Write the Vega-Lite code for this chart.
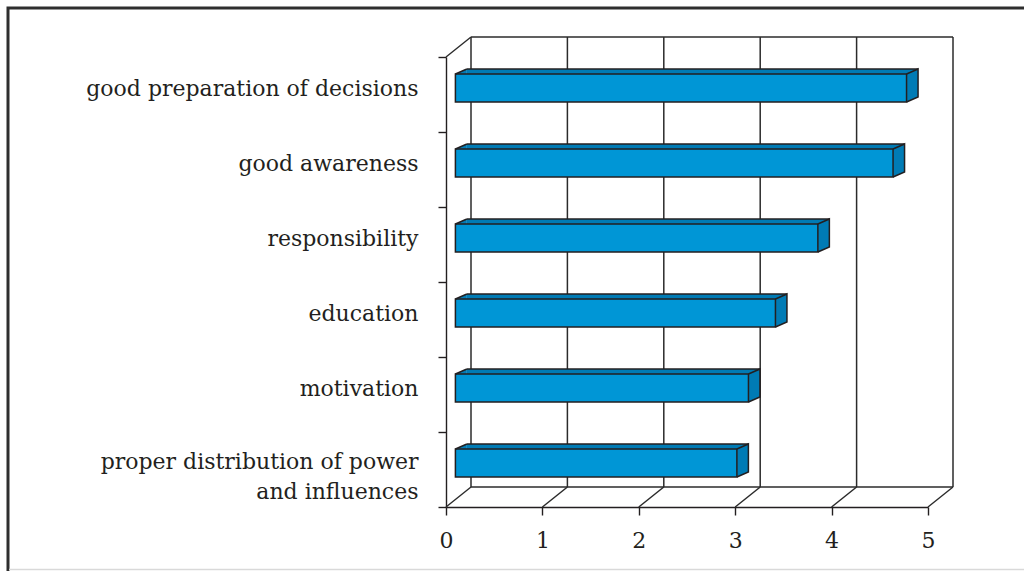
{
  "$schema": "https://vega.github.io/schema/vega-lite/v6.json",
  "width": 482,
  "height": 450,
  "autosize": {"type": "none"},
  "padding": {"left": 446, "top": 57, "right": 96, "bottom": 64},
  "background": "#ffffff",
  "config": {"view": {"stroke": null}, "axis": {"title": null}},
  "datasets": {
    "scores": [
      {"factor": "good preparation of decisions", "score": 4.68},
      {"factor": "good awareness", "score": 4.54},
      {"factor": "responsibility", "score": 3.76},
      {"factor": "education", "score": 3.32},
      {"factor": "motivation", "score": 3.04},
      {"factor": "proper distribution of power and influences", "score": 2.92}
    ],
    "ticks": [{"t": 0}, {"t": 1}, {"t": 2}, {"t": 3}, {"t": 4}, {"t": 5}]
  },
  "layer": [
    {
      "data": {"name": "ticks"},
      "mark": {"type": "point", "shape": "M25,-57.5L25,392.5", "size": 4, "filled": false, "stroke": "#2b2b2b", "strokeWidth": 1.5, "opacity": 1},
      "encoding": {
        "x": {"field": "t", "type": "quantitative"},
        "y": {"datum": "good preparation of decisions", "type": "nominal"}
      }
    },
    {
      "data": {"name": "ticks"},
      "mark": {"type": "point", "shape": "M0,37.5L25,17.5", "size": 4, "filled": false, "stroke": "#2b2b2b", "strokeWidth": 1.5, "opacity": 1},
      "encoding": {
        "x": {"field": "t", "type": "quantitative"},
        "y": {"datum": "proper distribution of power and influences", "type": "nominal"}
      }
    },
    {
      "data": {"name": "ticks"},
      "transform": [{"filter": "datum.t === 0"}],
      "mark": {"type": "rule", "stroke": "#2b2b2b", "strokeWidth": 1.5, "xOffset": 25, "x2Offset": 25, "yOffset": -57.5, "y2Offset": -57.5},
      "encoding": {
        "x": {"field": "t", "type": "quantitative"},
        "x2": {"datum": 5},
        "y": {"datum": "good preparation of decisions", "type": "nominal"}
      }
    },
    {
      "data": {"name": "ticks"},
      "transform": [{"filter": "datum.t === 0"}],
      "mark": {"type": "rule", "stroke": "#2b2b2b", "strokeWidth": 1.5, "xOffset": 25, "x2Offset": 25, "yOffset": 17.5, "y2Offset": 17.5},
      "encoding": {
        "x": {"field": "t", "type": "quantitative"},
        "x2": {"datum": 5},
        "y": {"datum": "proper distribution of power and influences", "type": "nominal"}
      }
    },
    {
      "data": {"name": "ticks"},
      "transform": [{"filter": "datum.t === 0"}],
      "mark": {"type": "point", "shape": "M0,-37.5L25,-57.5", "size": 4, "filled": false, "stroke": "#2b2b2b", "strokeWidth": 1.5, "opacity": 1},
      "encoding": {
        "x": {"field": "t", "type": "quantitative"},
        "y": {"datum": "good preparation of decisions", "type": "nominal"}
      }
    },
    {
      "data": {"name": "ticks"},
      "transform": [{"filter": "datum.t === 0"}],
      "mark": {"type": "point", "shape": "M-438,477L-438,-86.5L580,-86.5", "size": 4, "filled": false, "stroke": "#2e2e2e", "strokeWidth": 3, "opacity": 1},
      "encoding": {
        "x": {"field": "t", "type": "quantitative"},
        "y": {"datum": "good preparation of decisions", "type": "nominal"}
      }
    },
    {
      "data": {"name": "ticks"},
      "transform": [{"filter": "datum.t === 0"}],
      "mark": {"type": "point", "shape": "M-437,475L580,475", "size": 4, "filled": false, "stroke": "#d9d9d9", "strokeWidth": 1.5, "opacity": 1},
      "encoding": {
        "x": {"field": "t", "type": "quantitative"},
        "y": {"datum": "good preparation of decisions", "type": "nominal"}
      }
    },
    {
      "data": {"name": "scores"},
      "mark": {"type": "bar", "fill": "#007bb5", "strokeWidth": 0, "height": {"band": 0.373}, "xOffset": 20.9, "x2Offset": 20.9, "yOffset": -11.5, "y2Offset": -11.5},
      "encoding": {
        "y": {"field": "factor", "type": "nominal", "sort": null},
        "x": {"field": "score", "type": "quantitative"}
      }
    },
    {
      "data": {"name": "scores"},
      "mark": {"type": "point", "shape": "M0,-14L11.5,-19L11.5,-14Z", "size": 4, "filled": true, "fill": "#007bb5", "strokeWidth": 0, "opacity": 1, "xOffset": 9.4, "yOffset": -6.5},
      "encoding": {
        "y": {"field": "factor", "type": "nominal", "sort": null},
        "x": {"datum": 0, "type": "quantitative"}
      }
    },
    {
      "data": {"name": "scores"},
      "mark": {"type": "point", "shape": "M0,-19L11.5,-19L11.5,9L0,14Z", "size": 4, "filled": true, "fill": "#007bb5", "strokeWidth": 0, "opacity": 1, "xOffset": 9.4, "yOffset": -6.5},
      "encoding": {
        "y": {"field": "factor", "type": "nominal", "sort": null},
        "x": {"field": "score", "type": "quantitative"}
      }
    },
    {
      "data": {"name": "scores"},
      "mark": {"type": "bar", "fill": "#0096d6", "stroke": "#231f20", "strokeWidth": 1.5, "height": {"band": 0.373}, "xOffset": 9.4, "x2Offset": 9.4, "yOffset": -6.5, "y2Offset": -6.5},
      "encoding": {
        "y": {
          "field": "factor", "type": "nominal", "sort": null,
          "scale": {"paddingInner": 0, "paddingOuter": 0, "domain": ["good preparation of decisions", "good awareness", "responsibility", "education", "motivation", "proper distribution of power and influences"]},
          "axis": {
            "title": null,
            "tickBand": "extent",
            "tickSize": 8,
            "tickColor": "#231f20",
            "tickWidth": 1.4,
            "domainColor": "#231f20",
            "domainWidth": 1.4,
            "labelFont": "DejaVu Serif",
            "labelFontSize": 22,
            "labelColor": "#231f20",
            "labelPadding": 20,
            "labelLimit": 600,
            "labelLineHeight": 30,
            "labelOffset": {"condition": {"test": "datum.value === 'proper distribution of power and influences'", "value": -8.5}, "value": -6.5},
            "labelExpr": "datum.value === 'proper distribution of power and influences' ? ['proper distribution of power', 'and influences'] : datum.label"
          }
        },
        "x": {
          "field": "score", "type": "quantitative",
          "scale": {"domain": [0, 5], "nice": false, "zero": true},
          "axis": {
            "title": null,
            "values": [0, 1, 2, 3, 4, 5],
            "format": "d",
            "grid": false,
            "tickSize": 8,
            "tickColor": "#231f20",
            "tickWidth": 1.4,
            "domainColor": "#231f20",
            "domainWidth": 1.4,
            "labelFont": "DejaVu Serif",
            "labelFontSize": 22,
            "labelColor": "#231f20",
            "labelPadding": 15,
            "labelFlush": false
          }
        }
      }
    },
    {
      "data": {"name": "scores"},
      "mark": {"type": "rule", "stroke": "#231f20", "strokeWidth": 1.5, "xOffset": 20.9, "x2Offset": 20.9, "yOffset": -25.5, "y2Offset": -25.5},
      "encoding": {
        "y": {"field": "factor", "type": "nominal", "sort": null},
        "x": {"field": "score", "type": "quantitative"},
        "x2": {"datum": 0}
      }
    },
    {
      "data": {"name": "scores"},
      "mark": {"type": "point", "shape": "M0,-14L11.5,-19", "size": 4, "filled": false, "stroke": "#231f20", "strokeWidth": 1.5, "opacity": 1, "xOffset": 9.4, "yOffset": -6.5},
      "encoding": {
        "y": {"field": "factor", "type": "nominal", "sort": null},
        "x": {"datum": 0, "type": "quantitative"}
      }
    },
    {
      "data": {"name": "scores"},
      "mark": {"type": "point", "shape": "M0,-14L11.5,-19L11.5,9L0,14", "size": 4, "filled": false, "stroke": "#231f20", "strokeWidth": 1.5, "opacity": 1, "xOffset": 9.4, "yOffset": -6.5},
      "encoding": {
        "y": {"field": "factor", "type": "nominal", "sort": null},
        "x": {"field": "score", "type": "quantitative"}
      }
    }
  ]
}
